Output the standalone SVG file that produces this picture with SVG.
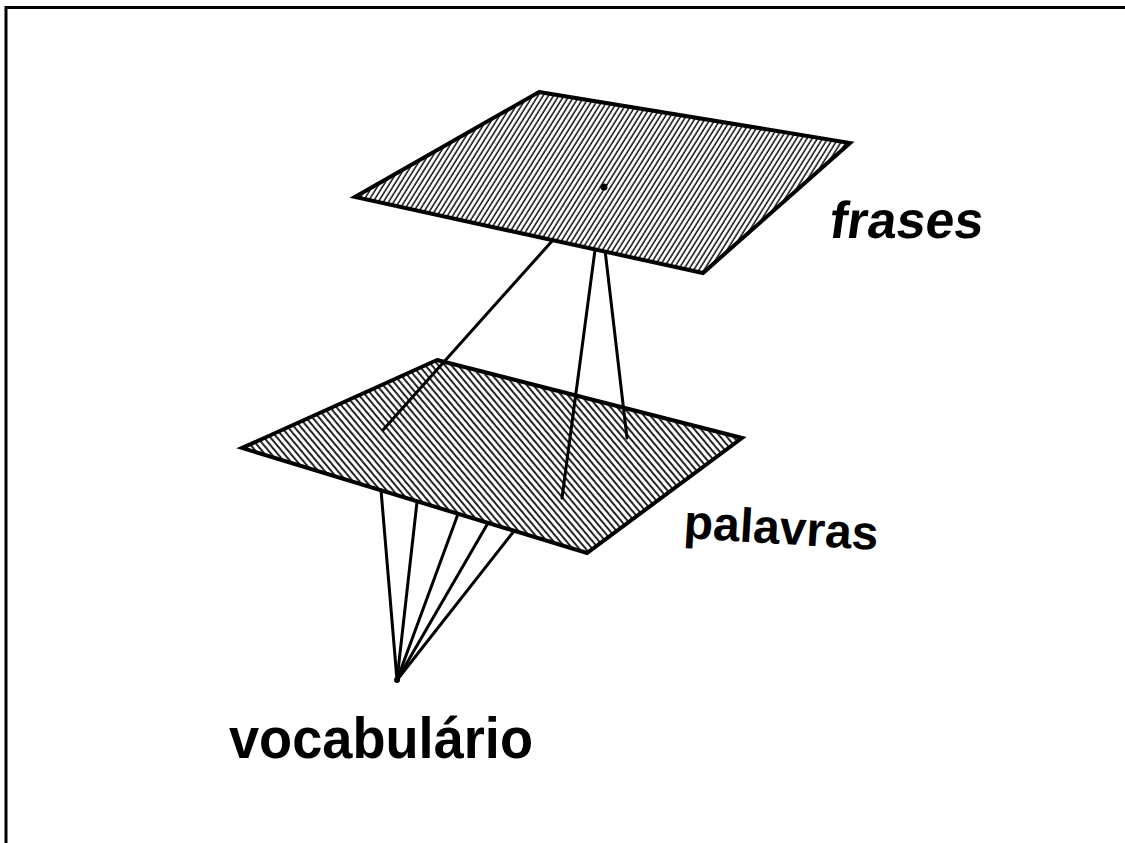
<svg xmlns="http://www.w3.org/2000/svg" width="1125" height="843" viewBox="0 0 1125 843">
<style>
.plane{stroke:#000;stroke-width:4;stroke-linejoin:miter}
.conn{stroke:#000;stroke-width:3;fill:none;stroke-linecap:round}
.lbl{font-family:"Liberation Sans",Arial,sans-serif;font-weight:bold;fill:#000}
</style>
<defs>
<pattern id="hatchTop" width="4.4" height="10" patternUnits="userSpaceOnUse" patternTransform="rotate(32)">
<rect width="4.4" height="10" fill="#fff"/>
<line x1="1" y1="0" x2="1" y2="10" stroke="#000" stroke-width="1.4"/>
</pattern>
<pattern id="hatchBot" width="5" height="10" patternUnits="userSpaceOnUse" patternTransform="rotate(-40)">
<rect width="5" height="10" fill="#fff"/>
<line x1="1" y1="0" x2="1" y2="10" stroke="#000" stroke-width="1.7"/>
</pattern>
</defs>
<rect width="1125" height="843" fill="#fff"/>
<g id="frame"><path d="M6 843 V7.5 H1125" fill="none" stroke="#000" stroke-width="3"/></g>
<g id="palavras">
<polygon class="plane" points="437,360 742,438 587,553 242,448" fill="url(#hatchBot)"/>
<text class="lbl" x="683" y="538" font-size="48" transform="rotate(3.5 683 538)">palavras</text>
</g>
<g id="connectors">
<line class="conn" x1="553" y1="240" x2="383" y2="430"/>
<line class="conn" x1="595" y1="250" x2="562" y2="498"/>
<line class="conn" x1="605" y1="250" x2="627" y2="438"/>
<line class="conn" x1="381" y1="490" x2="397" y2="680"/>
<line class="conn" x1="417" y1="502" x2="397" y2="680"/>
<line class="conn" x1="458" y1="514" x2="397" y2="680"/>
<line class="conn" x1="488" y1="523" x2="397" y2="680"/>
<line class="conn" x1="514" y1="531" x2="397" y2="680"/>
</g>
<g id="frases">
<polygon class="plane" points="539,92 850,143 703,273 355,197" fill="url(#hatchTop)"/>
<circle cx="604" cy="187" r="3.5" fill="#000"/>
<text class="lbl" x="828" y="238" font-size="52" transform="translate(828 238) skewX(-8) translate(-828 -238)">frases</text>
</g>
<g id="vocabulario">
<circle cx="397" cy="680" r="3" fill="#000"/>
<text class="lbl" x="229" y="758" font-size="57" textLength="304" lengthAdjust="spacingAndGlyphs">vocabulário</text>
</g>
</svg>
